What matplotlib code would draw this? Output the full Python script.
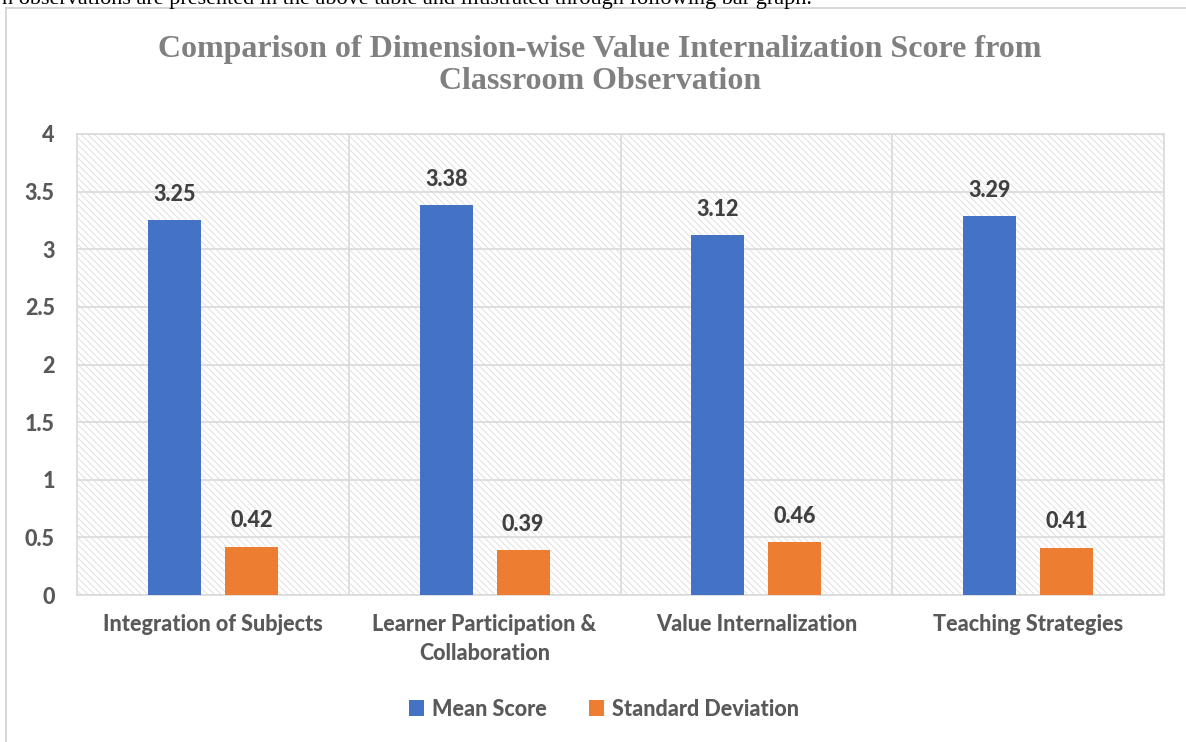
import numpy as np
import matplotlib.pyplot as plt
from matplotlib.patches import Rectangle
from matplotlib.lines import Line2D

categories = ['Integration of Subjects', 'Learner Participation &\nCollaboration',
              'Value Internalization', 'Teaching Strategies']
mean_score = [3.25, 3.38, 3.12, 3.29]
std_dev = [0.42, 0.39, 0.46, 0.41]
yticks = [0, 0.5, 1, 1.5, 2, 2.5, 3, 3.5, 4]
ytick_labels = ['0', '0.5', '1', '1.5', '2', '2.5', '3', '3.5', '4']

BLUE = '#4472C4'
ORANGE = '#ED7D31'
TXT = '#595959'
GRID = '#d9d9d9'
FONT = 'Lato'
FW = 900

plt.rcParams['hatch.linewidth'] = 0.6
plt.rcParams['hatch.color'] = '#dcdcdc'

fig = plt.figure(figsize=(11.86, 7.42), dpi=100)
W, H = 1186, 742

# piece of the document text cut at the top
fig.text(2 / W, 1 - 4 / H, 'n observations are presented in the above table and illustrated through following bar graph.',
         family='Liberation Serif', fontsize=16, color='black', va='baseline', ha='left')

# chart frame (left + top edges visible)
fig.add_artist(Line2D([6 / W, 6 / W], [0, 1 - 8 / H], color='#d0d0d0', lw=1.2, transform=fig.transFigure))
fig.add_artist(Line2D([6 / W, 1], [1 - 8 / H, 1 - 8 / H], color='#d0d0d0', lw=1.2, transform=fig.transFigure))

ax = fig.add_axes([77 / W, 1 - 595 / H, (1164 - 77) / W, (595 - 134) / H])

x = np.arange(len(categories))
off = 0.1415
bw = 0.195
b1 = ax.bar(x - off, mean_score, bw, color=BLUE, zorder=3, label='Mean Score')
b2 = ax.bar(x + off, std_dev, bw, color=ORANGE, zorder=3, label='Standard Deviation')

# hatched plot background
ax.patch.set_facecolor('white')
ax.add_patch(Rectangle((0, 0), 1, 1, transform=ax.transAxes, facecolor='none',
                       edgecolor='#dcdcdc', hatch='\\\\\\\\\\', lw=0, zorder=0))

ax.set_xlim(-0.5, len(categories) - 0.5)
ax.set_ylim(0, 4)
ax.set_yticks(yticks)
ax.set_yticklabels(ytick_labels)
ax.set_xticks(x)
ax.set_xticklabels(categories)
for xv in x[:-1] + 0.5:
    ax.axvline(xv, color=GRID, lw=1.2, zorder=1)
ax.grid(axis='y', color=GRID, lw=1.2, zorder=1)
ax.set_axisbelow(True)
for s in ax.spines.values():
    s.set_color(GRID)
    s.set_linewidth(1.2)
ax.tick_params(length=0)
ax.tick_params(axis='y', pad=16)
ax.tick_params(axis='x', pad=14)
for lab in ax.get_yticklabels() + ax.get_xticklabels():
    lab.set_family(FONT)
    lab.set_fontweight(FW)
    lab.set_color(TXT)
    lab.set_fontsize(15.5)
for lab in ax.get_xticklabels():
    lab.set_linespacing(1.45)

for bars, vals in ((b1, mean_score), (b2, std_dev)):
    for r, v in zip(bars, vals):
        ax.annotate(f'{v:.2f}', (r.get_x() + r.get_width() / 2, v), xytext=(0, 11),
                    textcoords='offset points', ha='center', va='bottom',
                    family=FONT, fontweight=FW, fontsize=15.5, color='#404040')

fig.text(600 / W, 1 - 65.5 / H, 'Comparison of Dimension-wise Value Internalization Score from\nClassroom Observation',
         family='Liberation Serif', fontweight='bold', fontsize=23, color='#808080',
         ha='center', va='center', linespacing=1.15)

leg = fig.legend(handles=[b1, b2], loc='center', bbox_to_anchor=(604 / W, 1 - 709 / H), ncol=2,
                 frameon=False, handlelength=0.7, handleheight=0.7, columnspacing=2.0, handletextpad=0.35,
                 prop={'family': FONT, 'weight': FW, 'size': 15.5})
for t in leg.get_texts():
    t.set_color(TXT)

fig.savefig('out.png', dpi=100)
